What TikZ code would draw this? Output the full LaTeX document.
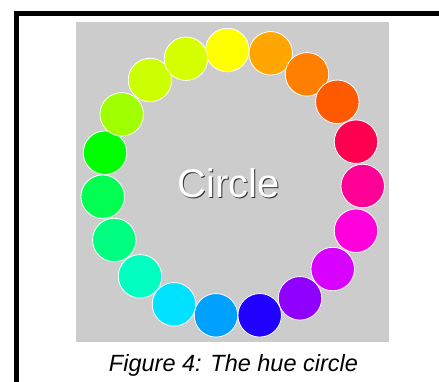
\documentclass[tikz,border=0pt]{standalone}
\usepackage{fontspec}
\setmainfont{Liberation Sans}
\begin{document}
\begin{tikzpicture}[x=1pt,y=-1pt,
  dot/.style={circle,draw=white,line width=0.8pt,minimum size=43.5pt,inner sep=0pt}]
\useasboundingbox (0,0) rectangle (439,381);
\clip (0,0) rectangle (439,381);
\fill[white] (0,0) rectangle (439,381);
\draw[line width=5pt] (16.5,13.5) rectangle (520,460);
\fill[fill={rgb,255:red,204;green,204;blue,204}] (76,22) rectangle (389,342);
\foreach \x/\y/\r/\g/\b [count=\i] in {
 227.3/50/255/255/0,
 270.7/53.3/255/166/0,
 307/74.3/255/128/0,
 337.3/101.8/255/90/0,
 356/141.7/255/0/80,
 362.7/186/255/0/150,
 356/230.7/255/0/220,
 332.7/269/216/0/255,
 300/298.3/144/0/255,
 259.7/315.3/32/0/255,
 216/315.3/0/160/255,
 174/304.3/0/226/255,
 140/276.3/0/255/192,
 114.3/240/0/255/128,
 102.7/196.7/0/255/80,
 105/152.7/0/255/0,
 121.7/114.3/160/255/0,
 150/80/204/255/0,
 186/58.7/214/255/0}
{
  \definecolor{hc\i}{RGB}{\r,\g,\b}
  \node[dot,fill=hc\i] (c\i) at (\x,\y) {};
}
\node[font=\fontsize{40}{40}\selectfont,text=black!80,anchor=base] (shadow) at (230,198.5) {Circle};
\node[font=\fontsize{40}{40}\selectfont,text=white,anchor=base] (title) at (228.5,197) {Circle};
\node[font=\fontsize{23.5}{23.5}\selectfont\itshape,anchor=base] (caption) at (233.5,371) {Figure 4: The hue circle};
\end{tikzpicture}
\end{document}
